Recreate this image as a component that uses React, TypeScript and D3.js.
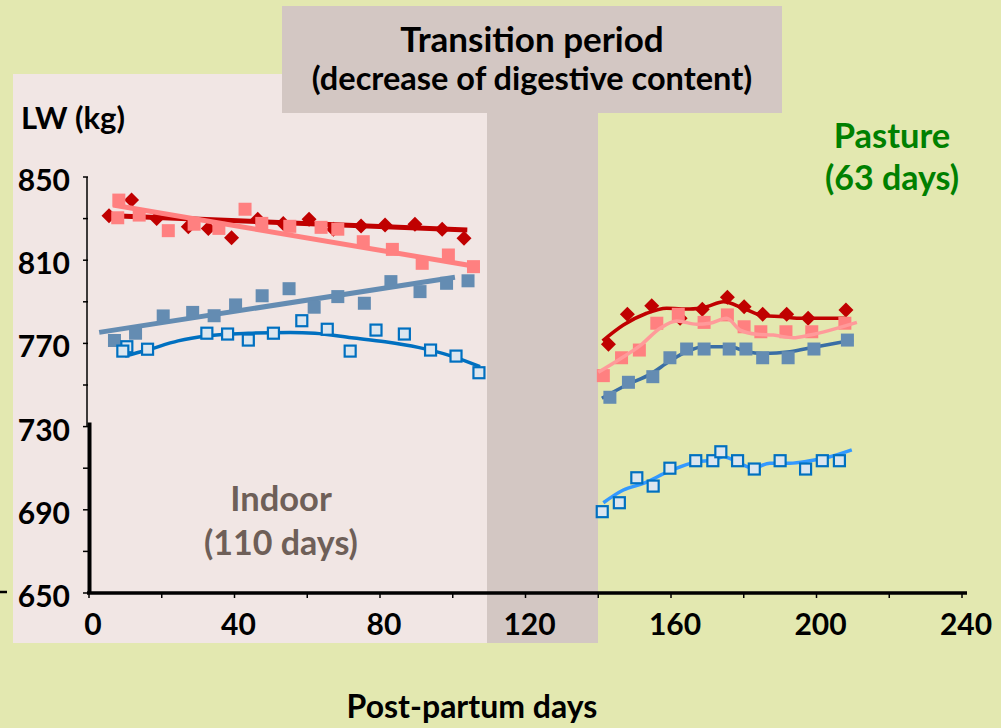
import React from "react";
import * as d3 from "d3";

// ---------- data (day post-partum, live weight kg) ----------
const redIndoor: [number, number][] = [
  [5.5, 831.4], [11.7, 838.9], [18.6, 830.1], [27.3, 826.1], [32.8, 825.3], [39.2, 820.8],
  [46.4, 829.7], [53.4, 827.7], [60.5, 829.7], [67.2, 824.9], [74.8, 826.4], [81.4, 826.9],
  [89.6, 827.3], [97.1, 824.9], [103.1, 820.5],
];
const pinkIndoor: [number, number][] = [
  [8.2, 838.9], [7.9, 830.4], [13.8, 831.7], [21.8, 824.2], [28.9, 827.3], [35.7, 825.3],
  [42.9, 834.5], [47.5, 827.7], [55.2, 826.3], [63.8, 825.8], [68.4, 824.9], [75.4, 818.9],
  [83.4, 815.2], [91.6, 808.5], [98.8, 812.5], [105.7, 806.9],
];
const steelIndoor: [number, number][] = [
  [7.0, 771.4], [12.8, 774.9], [20.4, 783.2], [28.5, 784.9], [34.4, 783.3], [40.3, 788.5],
  [47.6, 792.9], [55.0, 796.3], [61.9, 787.4], [68.4, 792.5], [75.7, 789.3], [83.0, 799.7],
  [91.0, 794.9], [98.3, 798.9], [104.2, 800.1],
];
const openIndoor: [number, number][] = [
  [10.4, 768.4], [9.3, 766.3], [16.1, 767.2], [32.4, 774.9], [38.1, 774.5], [43.8, 771.6],
  [50.7, 774.9], [58.5, 780.9], [65.5, 776.8], [71.8, 766.3], [78.9, 776.4], [86.7, 774.5],
  [93.9, 766.8], [100.9, 763.9], [107.2, 755.9],
];

const redPasture: [number, number][] = [
  [142.8, 769.6], [148.0, 784.0], [154.7, 788.1], [162.5, 782.1], [168.6, 786.4], [175.5, 792.2],
  [180.1, 787.6], [185.2, 784.0], [191.8, 784.0], [197.7, 782.1], [208.1, 786.1],
];
const pinkPasture: [number, number][] = [
  [141.4, 754.5], [146.4, 763.1], [151.3, 766.8], [156.1, 779.7], [162.0, 784.0], [169.1, 780.1],
  [175.5, 783.7], [180.1, 778.0], [184.7, 775.6], [191.6, 775.6], [198.7, 775.6], [207.8, 779.7],
];
const steelPasture: [number, number][] = [
  [143.2, 744.1], [148.3, 751.3], [155.0, 754.0], [159.7, 763.1], [164.3, 767.3], [169.1, 767.3],
  [176.0, 767.3], [180.6, 767.3], [185.2, 763.1], [192.2, 763.1], [199.3, 767.3], [208.5, 771.6],
];
const openPasture: [number, number][] = [
  [141.1, 689.1], [145.8, 693.4], [150.6, 705.4], [155.1, 701.4], [159.7, 710.0], [166.8, 713.6],
  [171.5, 713.6], [173.7, 717.9], [178.3, 713.6], [182.9, 709.6], [190.0, 713.6], [197.0, 709.6],
  [201.6, 713.6], [206.3, 713.6],
];

// fitted lines
const redIndoorTrend: [number, number][] = [[5, 831.5], [104, 824.5]];
const pinkIndoorTrend: [number, number][] = [[6.6, 836.5], [105.6, 807.2]];
const steelIndoorTrend: [number, number][] = [[2.8, 775.3], [100.6, 801.8]];
const openIndoorCurve: [number, number][] = [
  [9.9, 763.9], [16.0, 766.8], [24.5, 771.2], [32.4, 773.6], [43.8, 774.9], [55.3, 775.3],
  [62.1, 774.9], [72.2, 772.7], [81.4, 770.8], [90.5, 768.1], [99.7, 763.9], [107.5, 758.8],
];
const redPastureCurve: [number, number][] = [
  [141.2, 771.2], [146.9, 778.8], [153.3, 784.5], [158.8, 786.9], [165.2, 786.5], [169.8, 787.6],
  [174.4, 790.0], [179.9, 786.9], [185.4, 783.3], [190.9, 782.8], [194.6, 782.1], [208.3, 782.1],
];
const pinkPastureCurve: [number, number][] = [
  [140.0, 756.1], [146.0, 762.5], [151.5, 768.9], [157.0, 777.3], [161.6, 780.8], [167.1, 779.2],
  [170.7, 779.7], [175.3, 782.1], [179.0, 776.4], [183.6, 774.4], [188.1, 774.0], [193.6, 772.7],
  [198.2, 774.0], [211.1, 780.1],
];
const steelPastureCurve: [number, number][] = [
  [141.0, 743.6], [147.8, 750.0], [154.2, 755.1], [159.7, 761.5], [164.3, 766.0], [168.9, 768.4],
  [176.2, 768.4], [180.8, 766.0], [185.4, 765.2], [192.7, 766.0], [200.0, 768.4], [210.1, 771.6],
];
const openPastureCurve: [number, number][] = [
  [141.4, 693.4], [146.9, 699.5], [152.4, 702.7], [159.7, 708.7], [167.1, 713.1], [171.6, 713.9],
  [174.4, 715.5], [178.1, 713.1], [182.6, 710.0], [187.2, 712.4], [192.7, 712.4], [198.2, 713.6],
  [203.7, 715.5], [209.7, 718.8],
];

const xTickLabels = [0, 40, 80, 120, 160, 200, 240];
const xMinorTicks = [0, 20, 40, 60, 80, 100, 120, 140, 160, 180, 200, 220, 240];
const yTickLabels = [650, 690, 730, 770, 810, 850];
const yMinorTicks = [650, 670, 690, 710, 730, 750, 770, 790, 810, 830, 850];

// ---------- styling ----------
const FONT = "Lato, 'Open Sans', sans-serif";
const C_BG = "#e3e8b0";
const C_INDOOR = "#f1e6e4";
const C_TRANS = "#d3c7c3";
const C_RED = "#c00000";
const C_PINK = "#ff8080";
const C_PINK_LINE = "#ff9a9a";
const C_STEEL = "#648cb2";
const C_STEEL_LINE = "#3a6ea5";
const C_OPEN = "#0070c0";
const C_OPEN_FILL = "#dce6ef";
const C_OPEN_LINE2 = "#3399ff";

export default function App() {
  const x = d3.scaleLinear().domain([0, 240]).range([89, 962]);
  const y = d3.scaleLinear().domain([650, 850]).range([593, 177]);

  const straight = d3.line<[number, number]>().x((d) => x(d[0])).y((d) => y(d[1]));
  const smooth = d3
    .line<[number, number]>()
    .x((d) => x(d[0]))
    .y((d) => y(d[1]))
    .curve(d3.curveMonotoneX);

  const diamonds = (data: [number, number][], key: string) =>
    data.map((d, i) => (
      <path
        key={key + i}
        d="M0,-7.5L7.5,0L0,7.5L-7.5,0Z"
        transform={`translate(${x(d[0])},${y(d[1])})`}
        fill={C_RED}
      />
    ));
  const squares = (data: [number, number][], fill: string, key: string) =>
    data.map((d, i) => (
      <rect key={key + i} x={x(d[0]) - 6.5} y={y(d[1]) - 6.5} width={13} height={13} fill={fill} />
    ));
  const openSquares = (data: [number, number][], key: string) =>
    data.map((d, i) => (
      <rect
        key={key + i}
        x={x(d[0]) - 5.5}
        y={y(d[1]) - 5.5}
        width={11}
        height={11}
        fill={C_OPEN_FILL}
        stroke={C_OPEN}
        strokeWidth={2.2}
      />
    ));

  const textStyle = { fontFamily: FONT, fontWeight: 700 as const };

  return (
    <svg
      width={1001}
      height={728}
      style={{ position: "absolute", left: 0, top: 0, display: "block" }}
    >
      <rect x={0} y={0} width={1001} height={728} fill={C_BG} />
      {/* Indoor panel */}
      <rect x={13} y={74} width={474} height={569} fill={C_INDOOR} />
      {/* transition */}
      <rect x={282} y={6} width={500} height={107} fill={C_TRANS} />
      <rect x={487} y={113} width={111} height={530} fill={C_TRANS} />

      {/* axes */}
      <line x1={87} x2={87} y1={y(850)} y2={y(730)} stroke="#000" strokeWidth={1.5} />
      <line x1={89.5} x2={89.5} y1={y(732)} y2={y(650) + 1} stroke="#000" strokeWidth={4} />
      {yMinorTicks.map((t) => (
        <line key={"yt" + t} x1={83} x2={88} y1={y(t)} y2={y(t)} stroke="#000" strokeWidth={1.5} />
      ))}
      <line x1={87} x2={967} y1={y(650)} y2={y(650)} stroke="#000" strokeWidth={3.5} />
      {xMinorTicks.map((t) => (
        <line key={"xt" + t} x1={x(t)} x2={x(t)} y1={y(650)} y2={y(650) + 5} stroke="#000" strokeWidth={1.5} />
      ))}
      <line x1={0} x2={7} y1={592} y2={592} stroke="#000" strokeWidth={2.5} />

      {yTickLabels.map((t) => (
        <text key={"yl" + t} x={70} y={y(t) + 14} textAnchor="end" fontSize={30} {...textStyle}>
          {t}
        </text>
      ))}
      {xTickLabels.map((t) => (
        <text key={"xl" + t} x={x(t) + 4} y={635} textAnchor="middle" fontSize={30} {...textStyle}>
          {t}
        </text>
      ))}

      {/* indoor series */}
      <path d={straight(redIndoorTrend) || ""} fill="none" stroke={C_RED} strokeWidth={5} />
      {diamonds(redIndoor, "ri")}
      <path d={straight(pinkIndoorTrend) || ""} fill="none" stroke={C_PINK} strokeWidth={5} />
      {squares(pinkIndoor, C_PINK, "pi")}
      <path d={straight(steelIndoorTrend) || ""} fill="none" stroke={C_STEEL} strokeWidth={5} />
      {squares(steelIndoor, C_STEEL, "si")}
      <path d={smooth(openIndoorCurve) || ""} fill="none" stroke={C_OPEN} strokeWidth={3.5} />
      {openSquares(openIndoor, "oi")}

      {/* pasture series */}
      {diamonds(redPasture, "rp")}
      <path d={smooth(redPastureCurve) || ""} fill="none" stroke={C_RED} strokeWidth={3.5} />
      {squares(pinkPasture, C_PINK, "pp")}
      <path d={smooth(pinkPastureCurve) || ""} fill="none" stroke={C_PINK_LINE} strokeWidth={3.5} />
      <path d={smooth(steelPastureCurve) || ""} fill="none" stroke={C_STEEL_LINE} strokeWidth={3.5} />
      {squares(steelPasture, C_STEEL, "sp")}
      <path d={smooth(openPastureCurve) || ""} fill="none" stroke={C_OPEN_LINE2} strokeWidth={3.5} />
      {openSquares(openPasture, "op")}

      {/* texts */}
      <text x={532} y={52} textAnchor="middle" fontSize={35} fill="#000" {...textStyle}>
        Transition period
      </text>
      <text x={532} y={90} textAnchor="middle" fontSize={32.5} fill="#000" {...textStyle}>
        (decrease of digestive content)
      </text>
      <text x={21} y={129} fontSize={31} fill="#000" {...textStyle}>
        LW (kg)
      </text>
      <text x={892} y={148} textAnchor="middle" fontSize={34.5} fill="#008000" {...textStyle}>
        Pasture
      </text>
      <text x={892} y={190} textAnchor="middle" fontSize={34} fill="#008000" {...textStyle}>
        (63 days)
      </text>
      <text x={281} y={511} textAnchor="middle" fontSize={34.5} fill="#6e5f58" {...textStyle}>
        Indoor
      </text>
      <text x={281} y={555} textAnchor="middle" fontSize={34} fill="#6e5f58" {...textStyle}>
        (110 days)
      </text>
      <text x={472} y={718} textAnchor="middle" fontSize={32} fill="#000" {...textStyle}>
        Post-partum days
      </text>
    </svg>
  );
}
